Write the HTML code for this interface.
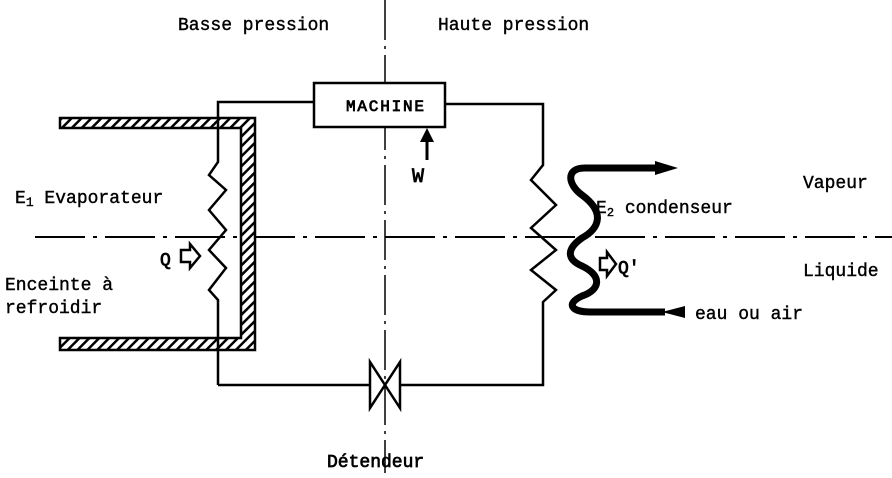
<!DOCTYPE html>
<html><head><style>
body{margin:0;background:#fff}
svg text{font-family:"Liberation Mono",monospace;font-size:18px;fill:#000;stroke:#000;stroke-width:0.4}
</style></head><body>
<svg width="892" height="473" viewBox="0 0 892 473" xmlns="http://www.w3.org/2000/svg">
<defs>
<pattern id="h" width="7" height="7" patternUnits="userSpaceOnUse" patternTransform="rotate(45)">
<rect width="7" height="7" fill="#fff"/><rect width="2.5" height="7" fill="#000"/></pattern>
</defs>
<line x1="385" y1="0" x2="385" y2="473" stroke="#000" stroke-width="1.5" stroke-dasharray="40,6,3,6"/>
<line x1="35" y1="237" x2="892" y2="237" stroke="#000" stroke-width="2" stroke-dasharray="50,8,4,8"/>
<g stroke="#000" stroke-width="2.5" fill="url(#h)">
<path d="M60 118 H255 V350 H60 V338 H241 V128 H60 Z"/>
</g>
<g stroke="#000" stroke-width="2.5" fill="none">
<path d="M218 385 V300 L209 290 L226 268 L209 250 L226 230 L209 210 L226 190 L209 175 L218 162 V102 H314"/>
<rect x="314" y="83" width="131" height="44" fill="#fff"/>
<path d="M445 104 H543 V165 L531 180 L556 205 L531 228 L556 250 L531 270 L556 290 L543 302 V385 H218"/>
</g>
<text x="346" y="111" style="font-size:16px;stroke-width:0.8" textLength="78">MACHINE</text>
<line x1="427" y1="160" x2="427" y2="140" stroke="#000" stroke-width="3"/>
<polygon points="420,142 434,142 427,128" fill="#000"/>
<text x="412" y="182" style="font-size:20px;stroke-width:0.8">W</text>
<polygon points="370,362 370,408 400,362 400,408" fill="#fff" stroke="#000" stroke-width="2.5"/>
<path d="M660 168 H585 C565 168 568 185 582 195 C605 212 600 228 582 238 C565 250 568 260 582 266 C603 276 600 290 582 296 C565 304 572 312 590 312 H665" fill="none" stroke="#000" stroke-width="7"/>
<polygon points="655,161 678,168 655,175" fill="#000"/>
<polygon points="685,306 662,312 685,318" fill="#000"/>
<path d="M181 250 H190 V244 L200 256 L190 268 V262 H181 Z" fill="#fff" stroke="#000" stroke-width="2.5"/>
<path d="M600 258 H607 V252 L616 264 L607 276 V270 H600 Z" fill="#fff" stroke="#000" stroke-width="2.5"/>
<text x="160" y="265" style="stroke-width:0.8">Q</text>
<text x="618" y="273" style="stroke-width:0.8">Q'</text>
<text x="178" y="30">Basse pression</text>
<text x="438" y="30">Haute pression</text>
<text x="15" y="203">E<tspan font-size="13" dy="3">1</tspan><tspan dy="-3">  Evaporateur</tspan></text>
<text x="5" y="290">Enceinte à</text>
<text x="5" y="313">refroidir</text>
<text x="596" y="213">E<tspan font-size="12" dy="3">2</tspan><tspan dy="-3"> condenseur</tspan></text>
<text x="803" y="188">Vapeur</text>
<text x="803" y="276">Liquide</text>
<text x="695" y="319">eau ou air</text>
<text x="327" y="467" style="stroke-width:0.7">Détendeur</text>
</svg>
</body></html>
